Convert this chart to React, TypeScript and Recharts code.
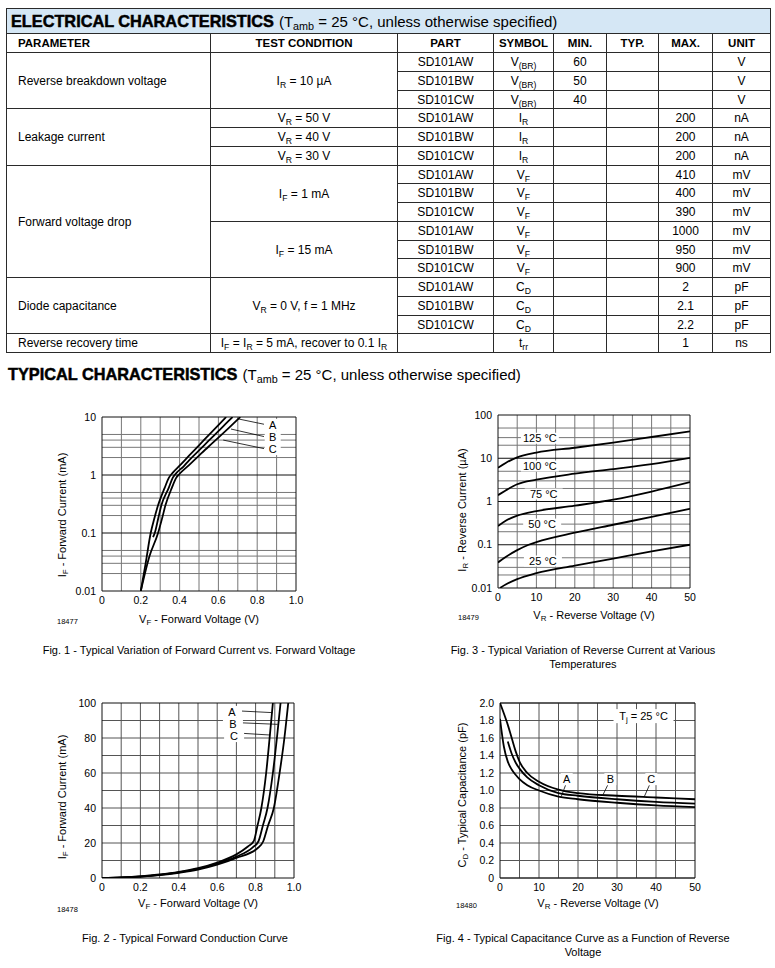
import React from "react";
import {
  LineChart,
  Line,
  XAxis,
  YAxis,
  CartesianGrid,
  ReferenceLine,
  ReferenceDot
} from "recharts";

const FONT = "'Liberation Sans', Arial, Helvetica, sans-serif";

// ---------- table text ----------
const headers = ["PARAMETER", "TEST CONDITION", "PART", "SYMBOL", "MIN.", "TYP.", "MAX.", "UNIT"];
const rowParts = [
  "SD101AW", "SD101BW", "SD101CW",
  "SD101AW", "SD101BW", "SD101CW",
  "SD101AW", "SD101BW", "SD101CW",
  "SD101AW", "SD101BW", "SD101CW",
  "SD101AW", "SD101BW", "SD101CW",
  ""
];
const rowSymbols: [string, string][] = [
  ["V", "(BR)"], ["V", "(BR)"], ["V", "(BR)"],
  ["I", "R"], ["I", "R"], ["I", "R"],
  ["V", "F"], ["V", "F"], ["V", "F"], ["V", "F"], ["V", "F"], ["V", "F"],
  ["C", "D"], ["C", "D"], ["C", "D"],
  ["t", "rr"]
];
const rowMin = ["60", "50", "40", "", "", "", "", "", "", "", "", "", "", "", "", ""];
const rowMax = ["", "", "", "200", "200", "200", "410", "400", "390", "1000", "950", "900", "2", "2.1", "2.2", "1"];
const rowUnit = ["V", "V", "V", "nA", "nA", "nA", "mV", "mV", "mV", "mV", "mV", "mV", "pF", "pF", "pF", "ns"];
const paramGroups: [string, number][] = [
  ["Reverse breakdown voltage", 3],
  ["Leakage current", 3],
  ["Forward voltage drop", 6],
  ["Diode capacitance", 3],
  ["Reverse recovery time", 1]
];

const SUB: React.CSSProperties = { fontSize: "0.72em", verticalAlign: "-0.3em", lineHeight: 0 };
const S = (s: string) => <sub style={SUB}>{s}</sub>;

const conditionGroups: [React.ReactNode, number][] = [
  [<>I{S("R")} = 10 µA</>, 3],
  [<>V{S("R")} = 50 V</>, 1],
  [<>V{S("R")} = 40 V</>, 1],
  [<>V{S("R")} = 30 V</>, 1],
  [<>I{S("F")} = 1 mA</>, 3],
  [<>I{S("F")} = 15 mA</>, 3],
  [<>V{S("R")} = 0 V, f = 1 MHz</>, 3],
  [<>I{S("F")} = I{S("R")} = 5 mA, recover to 0.1 I{S("R")}</>, 1]
];

// ---------- Fig. 1 : forward current (log) vs forward voltage ----------
const fig1A_V = [0.2, 0.225, 0.251, 0.27, 0.289, 0.323, 0.345, 0.365, 0.4, 0.45, 0.5, 0.55, 0.6, 0.64];
const fig1A_I = [0.01, 0.03, 0.1, 0.18, 0.3, 0.6, 0.9, 1.1, 1.45, 2.18, 3.25, 4.86, 7.26, 10];
const fig1B_V = [0.263, 0.272, 0.29, 0.306, 0.344, 0.365, 0.385, 0.42, 0.45, 0.5, 0.55, 0.6, 0.65, 0.673];
const fig1B_I = [0.085, 0.1, 0.18, 0.3, 0.6, 0.9, 1.1, 1.4, 1.81, 2.65, 3.9, 5.7, 8.4, 10];
const fig1C_V = [0.2, 0.245, 0.289, 0.31, 0.327, 0.36, 0.383, 0.4, 0.45, 0.5, 0.55, 0.6, 0.65, 0.713];
const fig1C_I = [0.01, 0.04, 0.1, 0.18, 0.3, 0.6, 0.9, 1.05, 1.5, 2.16, 3.1, 4.4, 6.3, 10];
const fig1XTicks = [0, 0.2, 0.4, 0.6, 0.8, 1.0];
const fig1XGrid = [0.1, 0.2, 0.3, 0.4, 0.5, 0.6, 0.7, 0.8, 0.9];
const fig1YTicks = [0.01, 0.1, 1, 10];
const fig1YMinor = [0.02, 0.03, 0.04, 0.05, 0.2, 0.3, 0.4, 0.5, 2, 3, 4, 5];

// ---------- Fig. 3 : reverse current (log) vs reverse voltage ----------
const fig3X = [0, 2, 5, 10, 20, 30, 40, 50];
const fig3_125 = [6, 7.8, 10.5, 13.5, 17.5, 23, 31, 42];
const fig3_100 = [1.4, 1.8, 2.5, 3.2, 4.4, 5.6, 7.3, 10.2];
const fig3_75 = [0.27, 0.36, 0.47, 0.6, 0.8, 1.1, 1.7, 2.8];
const fig3_50X = [0, 2, 5, 8, 10, 20, 30, 40, 50];
const fig3_50 = [0.039, 0.052, 0.075, 0.1, 0.115, 0.19, 0.29, 0.44, 0.68];
const fig3_25X = [0.5, 2, 5, 10, 20, 30, 40, 50];
const fig3_25 = [0.01, 0.012, 0.016, 0.022, 0.033, 0.048, 0.07, 0.1];
const fig3Temps = ["125 °C", "100 °C", "75 °C", "50 °C", "25 °C"];
const fig3LabelX = [10.9, 10.9, 11.9, 11.5, 11.7];
const fig3LabelY = [29, 6.6, 1.49, 0.3, 0.042];
const fig3XTicks = [0, 10, 20, 30, 40, 50];
const fig3XGrid = [5, 10, 15, 20, 25, 30, 35, 40, 45];
const fig3YTicks = [0.01, 0.1, 1, 10, 100];
const fig3YMinor = [0.02, 0.03, 0.05, 0.2, 0.3, 0.5, 2, 3, 5, 20, 30, 50];

// ---------- Fig. 2 : forward conduction (linear) ----------
const fig2A_V = [0, 0.1, 0.2, 0.3, 0.4, 0.5, 0.6, 0.7, 0.76, 0.79, 0.81, 0.83, 0.855, 0.873, 0.89];
const fig2A_I = [0, 0.3, 0.9, 2, 3.5, 5.6, 8.8, 13.5, 18, 21, 30, 40, 60, 80, 100];
const fig2B_V = [0, 0.1, 0.2, 0.3, 0.4, 0.5, 0.6, 0.7, 0.785, 0.815, 0.838, 0.862, 0.89, 0.911, 0.93];
const fig2B_I = [0, 0.3, 0.85, 1.8, 3.2, 5.2, 8.2, 12.2, 17.5, 21, 30, 40, 60, 80, 100];
const fig2C_V = [0, 0.1, 0.2, 0.3, 0.4, 0.5, 0.6, 0.7, 0.81, 0.84, 0.865, 0.895, 0.925, 0.95, 0.97];
const fig2C_I = [0, 0.25, 0.8, 1.7, 3, 4.8, 7.6, 11.5, 17, 21, 30, 40, 60, 80, 100];
const fig2XTicks = [0, 0.2, 0.4, 0.6, 0.8, 1.0];
const fig2YTicks = [0, 20, 40, 60, 80, 100];
const fig2YGrid = [10, 20, 30, 40, 50, 60, 70, 80, 90];

// ---------- Fig. 4 : capacitance vs reverse voltage ----------
const fig4Top_V = [0, 1, 2, 3, 4, 5, 7, 10, 15, 20, 30, 40, 50];
const fig4Top_C = [2.0, 1.88, 1.75, 1.6, 1.45, 1.33, 1.2, 1.1, 1.01, 0.97, 0.94, 0.92, 0.9];
const fig4Mid_V = [2, 3, 4, 5, 7, 10, 15, 20, 30, 40, 50];
const fig4Mid_C = [1.56, 1.42, 1.32, 1.25, 1.15, 1.06, 0.97, 0.94, 0.9, 0.87, 0.85];
const fig4Low_V = [0, 1, 2, 3, 4, 5, 7, 10, 15, 20, 30, 40, 50];
const fig4Low_C = [1.82, 1.5, 1.33, 1.24, 1.18, 1.13, 1.06, 1.0, 0.93, 0.9, 0.86, 0.83, 0.81];
const fig4XTicks = [0, 10, 20, 30, 40, 50];
const fig4XGrid = [5, 10, 15, 20, 25, 30, 35, 40, 45];
const fig4YTicks = [0, 0.2, 0.4, 0.6, 0.8, 1.0, 1.2, 1.4, 1.6, 1.8, 2.0];

const curveLabels = ["A", "B", "C"];

// ---------- helpers ----------
const fmt1 = (v: number) => (v === 0 ? "0" : v.toFixed(1));
const pts = (xs: number[], ys: number[]) => xs.map((x, i) => ({ x, y: ys[i] }));

function BoxText(props: any) {
  const vb = props.viewBox || {};
  const cx = (vb.x ?? 0) + (vb.width || 0) / 2;
  const cy = (vb.y ?? 0) + (vb.height || 0) / 2;
  const { w, h, txt, sb, rest } = props;
  return (
    <g>
      <rect x={cx - w / 2} y={cy - h / 2} width={w} height={h} fill="#fff" />
      <text x={cx} y={cy} textAnchor="middle" dominantBaseline="central" fontSize={11} fontFamily={FONT} fill="#000">
        {txt}
        {sb ? <tspan fontSize={8} dy={3}>{sb}</tspan> : null}
        {rest ? <tspan dy={sb ? -3 : 0}>{rest}</tspan> : null}
      </text>
    </g>
  );
}

interface PlotProps {
  l: number; t: number; r: number; b: number;
  xDomain: [number, number]; xTicks: number[]; xFmt?: (v: number) => string;
  yDomain: [number, number]; yTicks: number[]; yFmt?: (v: number) => string; yLog?: boolean;
  vGrid: number[]; hMinor: number[]; hMajor: number[]; minorColor: string;
  curves: { x: number; y: number }[][];
  children?: React.ReactNode;
}

function Plot(p: PlotProps) {
  const padL = 45, padT = 10, padR = 16, padB = 25, yw = 40, xh = 20;
  const w = p.r - p.l + padL + padR;
  const h = p.b - p.t + padT + padB;
  const tick = { fill: "#000", fontSize: 10.5, fontFamily: FONT };
  return (
    <div style={{ position: "absolute", left: p.l - padL, top: p.t - padT }}>
      <LineChart width={w} height={h} margin={{ top: padT, right: padR, bottom: padB - xh, left: padL - yw }}>
        <CartesianGrid horizontalValues={p.hMinor} verticalValues={p.vGrid} stroke={p.minorColor} />
        <CartesianGrid horizontalValues={p.hMajor} verticalValues={p.xDomain} stroke="#111" />
        <XAxis
          type="number" dataKey="x" domain={p.xDomain} ticks={p.xTicks} tickFormatter={p.xFmt}
          allowDataOverflow interval={0} axisLine={false} tickLine={false} tickSize={0} tickMargin={6}
          height={xh} tick={tick}
        />
        <YAxis
          type="number" dataKey="y" scale={p.yLog ? "log" : "linear"} domain={p.yDomain} ticks={p.yTicks}
          tickFormatter={p.yFmt} allowDataOverflow interval={0} axisLine={false} tickLine={false}
          tickSize={0} tickMargin={6} width={yw} tick={tick}
        />
        {p.curves.map((c, i) => (
          <Line key={i} data={c} dataKey="y" type="monotone" stroke="#000" strokeWidth={1.8} dot={false} isAnimationActive={false} />
        ))}
        {p.children}
      </LineChart>
    </div>
  );
}

function Txt({ x, y, w, align, size, children, bold }: any) {
  const left = align === "left" ? x : x - w / 2;
  return (
    <div style={{ position: "absolute", left, top: y, width: w, textAlign: align || "center", fontSize: size || 11, lineHeight: "14px", fontWeight: bold ? 700 : 400, whiteSpace: "nowrap" }}>
      {children}
    </div>
  );
}

function YTitle({ cx, cy, children }: any) {
  return (
    <div style={{ position: "absolute", left: cx - 100, top: cy - 7, width: 200, height: 14, lineHeight: "14px", textAlign: "center", fontSize: 11, transform: "rotate(-90deg)", whiteSpace: "nowrap" }}>
      {children}
    </div>
  );
}

// ---------- table layout ----------
const colEdges = [6, 210, 397, 493, 553, 606, 658, 712, 770];
const TITLE_TOP = 8, HEAD_TOP = 33, BODY_TOP = 52, ROW_H = 18.75;
const rowY = (i: number) => Math.round(BODY_TOP + i * ROW_H);

function Cell({ c0, c1, y0, y1, left, bold, size, bg, children }: any) {
  const x0 = colEdges[c0], x1 = colEdges[c1];
  return (
    <div style={{
      position: "absolute", left: x0, top: y0, width: x1 - x0 + 1, height: y1 - y0 + 1,
      border: "1px solid #2a2a2a", boxSizing: "border-box", display: "flex", alignItems: "center",
      justifyContent: left ? "flex-start" : "center", paddingLeft: left ? 11 : 0,
      fontSize: size || 12, fontWeight: bold ? 700 : 400, background: bg || "#fff", whiteSpace: "nowrap"
    }}><span>{children}</span></div>
  );
}

function Table() {
  const cells: React.ReactNode[] = [];
  cells.push(
    <Cell key="title" c0={0} c1={8} y0={TITLE_TOP} y1={HEAD_TOP} left bg="#d5e7f5">
      <span style={{ fontSize: 16.3, fontWeight: 900, letterSpacing: 0, WebkitTextStroke: "0.5px #000", marginLeft: -7 }}>ELECTRICAL CHARACTERISTICS</span>
      <span style={{ fontSize: 15, marginLeft: 5 }}>(T{S("amb")} = 25 °C, unless otherwise specified)</span>
    </Cell>
  );
  headers.forEach((h, i) =>
    cells.push(<Cell key={"h" + i} c0={i} c1={i + 1} y0={HEAD_TOP} y1={BODY_TOP} left={i === 0} bold size={11.5}>{h}</Cell>)
  );
  let r = 0;
  paramGroups.forEach(([label, span], i) => {
    cells.push(<Cell key={"p" + i} c0={0} c1={1} y0={rowY(r)} y1={rowY(r + span)} left>{label}</Cell>);
    r += span;
  });
  r = 0;
  conditionGroups.forEach(([node, span], i) => {
    cells.push(<Cell key={"c" + i} c0={1} c1={2} y0={rowY(r)} y1={rowY(r + span)}>{node}</Cell>);
    r += span;
  });
  rowParts.forEach((part, i) => {
    const y0 = rowY(i), y1 = rowY(i + 1);
    cells.push(<Cell key={"pa" + i} c0={2} c1={3} y0={y0} y1={y1}>{part}</Cell>);
    cells.push(<Cell key={"sy" + i} c0={3} c1={4} y0={y0} y1={y1}>{rowSymbols[i][0]}{S(rowSymbols[i][1])}</Cell>);
    cells.push(<Cell key={"mi" + i} c0={4} c1={5} y0={y0} y1={y1}>{rowMin[i]}</Cell>);
    cells.push(<Cell key={"ty" + i} c0={5} c1={6} y0={y0} y1={y1}>{""}</Cell>);
    cells.push(<Cell key={"ma" + i} c0={6} c1={7} y0={y0} y1={y1}>{rowMax[i]}</Cell>);
    cells.push(<Cell key={"un" + i} c0={7} c1={8} y0={y0} y1={y1}>{rowUnit[i]}</Cell>);
  });
  return <>{cells}</>;
}

export default function App() {
  return (
    <div style={{ position: "absolute", left: 0, top: 0, width: 775, height: 968, background: "#fff", fontFamily: FONT, color: "#000" }}>
      <Table />

      <div style={{ position: "absolute", left: 8, top: 365, whiteSpace: "nowrap" }}>
        <span style={{ fontSize: 16.3, fontWeight: 900, letterSpacing: 0, WebkitTextStroke: "0.5px #000" }}>TYPICAL CHARACTERISTICS</span>
        <span style={{ fontSize: 15, marginLeft: 5 }}>(T{S("amb")} = 25 °C, unless otherwise specified)</span>
      </div>

      {/* Fig. 1 */}
      <Plot
        l={102} t={417} r={296} b={591}
        xDomain={[0, 1]} xTicks={fig1XTicks} xFmt={fmt1}
        yDomain={[0.01, 10]} yTicks={fig1YTicks} yLog
        vGrid={fig1XGrid} hMinor={fig1YMinor} hMajor={fig1YTicks} minorColor="#777"
        curves={[pts(fig1A_V, fig1A_I), pts(fig1B_V, fig1B_I), pts(fig1C_V, fig1C_I)]}
      >
        <ReferenceLine segment={[{ x: 0.7, y: 9.3 }, { x: 0.835, y: 7.5 }]} stroke="#000" strokeWidth={0.8} />
        <ReferenceLine segment={[{ x: 0.665, y: 6.2 }, { x: 0.835, y: 4.6 }]} stroke="#000" strokeWidth={0.8} />
        <ReferenceLine segment={[{ x: 0.625, y: 4.0 }, { x: 0.835, y: 2.85 }]} stroke="#000" strokeWidth={0.8} />
        <ReferenceDot x={0.88} y={7.3} r={0} fill="none" stroke="none" label={<BoxText txt={curveLabels[0]} w={16} h={12} />} />
        <ReferenceDot x={0.88} y={4.5} r={0} fill="none" stroke="none" label={<BoxText txt={curveLabels[1]} w={16} h={12} />} />
        <ReferenceDot x={0.88} y={2.8} r={0} fill="none" stroke="none" label={<BoxText txt={curveLabels[2]} w={16} h={12} />} />
      </Plot>
      <YTitle cx={62} cy={515}>I{S("F")} - Forward Current (mA)</YTitle>
      <Txt x={199} y={612} w={200}>V{S("F")} - Forward Voltage (V)</Txt>
      <Txt x={57} y={615} w={40} align="left" size={7.5}>18477</Txt>
      <Txt x={199} y={643} w={360}>Fig. 1 - Typical Variation of Forward Current vs. Forward Voltage</Txt>

      {/* Fig. 3 */}
      <Plot
        l={498} t={415} r={690} b={588}
        xDomain={[0, 50]} xTicks={fig3XTicks}
        yDomain={[0.01, 100]} yTicks={fig3YTicks} yLog
        vGrid={fig3XGrid} hMinor={fig3YMinor} hMajor={fig3YTicks} minorColor="#777"
        curves={[pts(fig3X, fig3_125), pts(fig3X, fig3_100), pts(fig3X, fig3_75), pts(fig3_50X, fig3_50), pts(fig3_25X, fig3_25)]}
      >
        {fig3Temps.map((t, i) => (
          <ReferenceDot key={t} x={fig3LabelX[i]} y={fig3LabelY[i]} r={0} fill="none" stroke="none" label={<BoxText txt={t} w={38} h={11} />} />
        ))}
      </Plot>
      <YTitle cx={462} cy={510}>I{S("R")} - Reverse Current (µA)</YTitle>
      <Txt x={594} y={608} w={200}>V{S("R")} - Reverse Voltage (V)</Txt>
      <Txt x={458} y={611} w={40} align="left" size={7.5}>18479</Txt>
      <Txt x={583} y={643} w={360}>Fig. 3 - Typical Variation of Reverse Current at Various<br />Temperatures</Txt>

      {/* Fig. 2 */}
      <Plot
        l={102} t={703} r={294} b={878}
        xDomain={[0, 1]} xTicks={fig2XTicks} xFmt={fmt1}
        yDomain={[0, 100]} yTicks={fig2YTicks}
        vGrid={fig1XGrid} hMinor={fig2YGrid} hMajor={[0, 100]} minorColor="#555"
        curves={[pts(fig2A_V, fig2A_I), pts(fig2B_V, fig2B_I), pts(fig2C_V, fig2C_I)]}
      >
        <ReferenceLine segment={[{ x: 0.727, y: 95.4 }, { x: 0.888, y: 94.5 }]} stroke="#000" strokeWidth={0.8} />
        <ReferenceLine segment={[{ x: 0.72, y: 88.7 }, { x: 0.915, y: 87.8 }]} stroke="#000" strokeWidth={0.8} />
        <ReferenceLine segment={[{ x: 0.727, y: 82.7 }, { x: 0.876, y: 81.7 }]} stroke="#000" strokeWidth={0.8} />
        <ReferenceDot x={0.677} y={94.9} r={0} fill="none" stroke="none" label={<BoxText txt={curveLabels[0]} w={20} h={12} />} />
        <ReferenceDot x={0.682} y={88} r={0} fill="none" stroke="none" label={<BoxText txt={curveLabels[1]} w={20} h={12} />} />
        <ReferenceDot x={0.688} y={81.1} r={0} fill="none" stroke="none" label={<BoxText txt={curveLabels[2]} w={20} h={12} />} />
      </Plot>
      <YTitle cx={62} cy={797}>I{S("F")} - Forward Current (mA)</YTitle>
      <Txt x={198} y={896} w={200}>V{S("F")} - Forward Voltage (V)</Txt>
      <Txt x={57} y={903} w={40} align="left" size={7.5}>18478</Txt>
      <Txt x={185} y={931} w={360}>Fig. 2 - Typical Forward Conduction Curve</Txt>

      {/* Fig. 4 */}
      <Plot
        l={500} t={703} r={695} b={878}
        xDomain={[0, 50]} xTicks={fig4XTicks}
        yDomain={[0, 2]} yTicks={fig4YTicks} yFmt={fmt1}
        vGrid={fig4XGrid} hMinor={fig4YTicks} hMajor={[0, 2]} minorColor="#555"
        curves={[pts(fig4Top_V, fig4Top_C), pts(fig4Mid_V, fig4Mid_C), pts(fig4Low_V, fig4Low_C)]}
      >
        <ReferenceLine segment={[{ x: 16.8, y: 1.06 }, { x: 15.7, y: 0.93 }]} stroke="#000" strokeWidth={0.8} />
        <ReferenceLine segment={[{ x: 27.6, y: 1.06 }, { x: 26.4, y: 0.95 }]} stroke="#000" strokeWidth={0.8} />
        <ReferenceLine segment={[{ x: 38.3, y: 1.06 }, { x: 37, y: 0.93 }]} stroke="#000" strokeWidth={0.8} />
        <ReferenceDot x={17.1} y={1.13} r={0} fill="none" stroke="none" label={<BoxText txt={curveLabels[0]} w={12} h={12} />} />
        <ReferenceDot x={28.3} y={1.13} r={0} fill="none" stroke="none" label={<BoxText txt={curveLabels[1]} w={12} h={12} />} />
        <ReferenceDot x={38.8} y={1.13} r={0} fill="none" stroke="none" label={<BoxText txt={curveLabels[2]} w={12} h={12} />} />
        <ReferenceDot x={36.8} y={1.85} r={0} fill="none" stroke="none" label={<BoxText txt="T" sb="j" rest=" = 25 °C" w={60} h={14} />} />
      </Plot>
      <YTitle cx={462} cy={795}>C{S("D")} - Typical Capacitance (pF)</YTitle>
      <Txt x={598} y={896} w={200}>V{S("R")} - Reverse Voltage (V)</Txt>
      <Txt x={456} y={899} w={40} align="left" size={7.5}>18480</Txt>
      <Txt x={583} y={931} w={360}>Fig. 4 - Typical Capacitance Curve as a Function of Reverse<br />Voltage</Txt>
    </div>
  );
}
